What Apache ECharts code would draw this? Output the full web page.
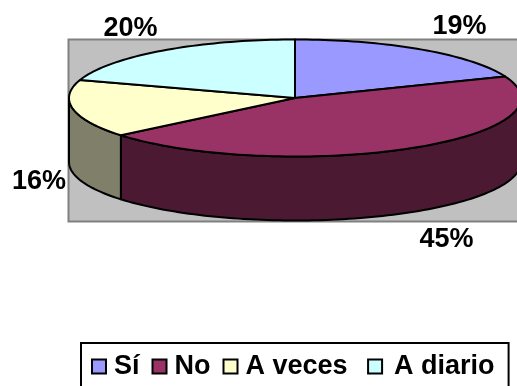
<!DOCTYPE html>
<html>
<head>
<meta charset="utf-8">
<style>html,body{margin:0;padding:0;background:#fff}#c{width:517px;height:386px}</style>
<script src="https://cdn.jsdelivr.net/npm/echarts@6/dist/echarts.min.js"></script>
</head>
<body>
<div id="c"></div>
<script>
const categories = ['Sí', 'No', 'A veces', 'A diario'];
const percents = [19, 45, 16, 20];
const topColors = ['#9999FF', '#993366', '#FFFFCC', '#CCFFFF'];
const sideColors = ['#4C4C80', '#4C1933', '#80806A', '#668080'];

// Tilted pie geometry: ellipse centre and radii, extrusion depth.
const CX = 295, CY = 98, RX = 226, RY = 58.5, DEPTH = 64;
const OUTLINE = { stroke: '#000', lineWidth: 2, lineJoin: 'round' };
const FONT_FAMILY = '"Liberation Sans", Arial, sans-serif';
// Label centres for each category, placed outside the pie.
const labelAnchors = [[459.5, 26.5], [446.5, 240], [39, 182], [130.5, 29]];

const total = percents.reduce((a, b) => a + b, 0);
const rimPoint = (turn, drop) => {
  const a = turn * 2 * Math.PI;
  return [CX + RX * Math.sin(a), CY - RY * Math.cos(a) + drop];
};
const arcPoints = (from, to, drop) => {
  const steps = Math.max(2, Math.ceil((to - from) * 240));
  const pts = [];
  for (let i = 0; i <= steps; i++) pts.push(rimPoint(from + (to - from) * i / steps, drop));
  return pts;
};

function sliceRenderer(index) {
  const start = percents.slice(0, index).reduce((a, b) => a + b, 0) / total;
  const end = start + percents[index] / total;
  return function () {
    const children = [];
    // Only the near half of the rim (a quarter to three quarters of a turn) shows a wall.
    const wallFrom = Math.max(start, 0.25), wallTo = Math.min(end, 0.75);
    if (wallTo > wallFrom) {
      const upper = arcPoints(wallFrom, wallTo, 0);
      const lower = arcPoints(wallFrom, wallTo, DEPTH).reverse();
      children.push({
        type: 'polygon',
        shape: { points: upper.concat(lower) },
        style: Object.assign({ fill: sideColors[index] }, OUTLINE)
      });
    }
    children.push({
      type: 'polygon',
      shape: { points: [[CX, CY]].concat(arcPoints(start, end, 0)) },
      style: Object.assign({ fill: topColors[index] }, OUTLINE)
    });
    children.push({
      type: 'text',
      x: labelAnchors[index][0],
      y: labelAnchors[index][1],
      style: {
        text: percents[index] + '%',
        fontFamily: FONT_FAMILY, fontWeight: 'bold', fontSize: 27,
        fill: '#000', align: 'center', verticalAlign: 'middle'
      }
    });
    return { type: 'group', children };
  };
}

const legendFont = { fontFamily: FONT_FAMILY, fontWeight: 'bold', fontSize: 27, color: '#000' };

const chart = echarts.init(document.getElementById('c'), null, { renderer: 'canvas' });
chart.setOption({
  animation: false,
  backgroundColor: '#fff',
  graphic: [{
    type: 'rect',
    z: -1,
    shape: { x: 68.5, y: 39.5, width: 460, height: 182 },
    style: { fill: '#C0C0C0', stroke: '#808080', lineWidth: 2 }
  }],
  legend: {
    left: 81,
    top: 343,
    padding: [10, 14, 12, 10],
    backgroundColor: '#fff',
    borderColor: '#000',
    borderWidth: 2,
    borderRadius: 0,
    itemGap: 12,
    // The slot is wider than the swatch so the square sits clear of its text.
    itemWidth: 20,
    itemHeight: 14,
    symbolKeepAspect: true,
    icon: 'path://M0 0H14V14H0Z',
    data: categories,
    formatter: name => {
      if (name === 'A veces') return name + '\u00A0';
      if (name === 'A diario') return '{lead|' + name + '}';
      return name;
    },
    textStyle: Object.assign({
      rich: { lead: Object.assign({ padding: [0, 0, 0, 4] }, legendFont) }
    }, legendFont),
    itemStyle: { borderColor: '#000', borderWidth: 2 }
  },
  series: categories.map((name, i) => ({
    type: 'custom',
    name,
    coordinateSystem: 'none',
    silent: true,
    color: topColors[i],
    data: [[percents[i]]],
    renderItem: sliceRenderer(i)
  }))
});
</script>
</body>
</html>
